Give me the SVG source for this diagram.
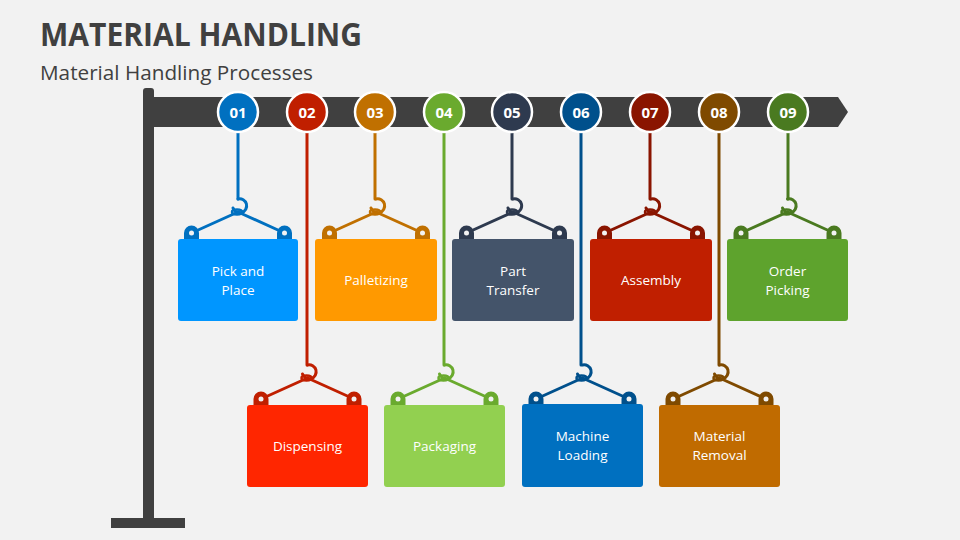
<svg xmlns="http://www.w3.org/2000/svg" width="960" height="540" viewBox="0 0 960 540">
<style>
.title{font-family:"Open Sans","Liberation Sans",sans-serif;font-weight:700;font-size:32px;fill:#404040}
.sub{font-family:"Open Sans","Liberation Sans",sans-serif;font-size:20px;fill:#404040}
.num{font-family:"Open Sans","Liberation Sans",sans-serif;font-weight:700;font-size:15px;fill:#fff;text-anchor:middle}
.lbl{font-family:"Open Sans","Liberation Sans",sans-serif;font-size:13.5px;fill:#fff;text-anchor:middle}
.rope{fill:none;stroke-width:3;stroke-linecap:round}
.hole{fill:#f2f2f2}
.dot{stroke:#fff;stroke-width:2.5}
</style>
<defs>
<g id="rig">
<path class="rope" d="M0 -40 A7 7 0 1 1 -5 -31"/>
<line class="rope" x1="0" y1="-27" x2="-46.5" y2="-6"/>
<line class="rope" x1="0" y1="-27" x2="46.5" y2="-6"/>
<ellipse cx="-1" cy="-27" rx="5" ry="2.5" fill="none" stroke-width="2.5"/>
<path d="M-54 0 V-6 A7.5 7.5 0 0 1 -39 -6 V0 Z" stroke="none"/>
<path d="M39 0 V-6 A7.5 7.5 0 0 1 54 -6 V0 Z" stroke="none"/>
<circle class="hole" cx="-46.5" cy="-6" r="2.5" stroke="none"/>
<circle class="hole" cx="46.5" cy="-6" r="2.5" stroke="none"/>
</g>
</defs>
<rect width="960" height="540" fill="#f2f2f2"/>
<text class="title" x="40" y="46" textLength="322" lengthAdjust="spacingAndGlyphs">MATERIAL HANDLING</text>
<text class="sub" x="40" y="80" textLength="273" lengthAdjust="spacingAndGlyphs">Material Handling Processes</text>
<g id="stand" fill="#404040">
<rect x="143" y="88" width="11" height="434" rx="3"/>
<rect x="111" y="518" width="74" height="10"/>
<polygon points="150,97 838,97 848,112 838,127 150,127"/>
</g>
<g id="connectors" class="rope" fill="none" stroke-width="3">
<line x1="238" y1="132" x2="238" y2="199" stroke="#0070c0"/>
<line x1="307" y1="132" x2="307" y2="365" stroke="#c01f00"/>
<line x1="375" y1="132" x2="375" y2="199" stroke="#c07000"/>
<line x1="444" y1="132" x2="444" y2="365" stroke="#6aaa2e"/>
<line x1="512" y1="132" x2="512" y2="199" stroke="#2e3a4f"/>
<line x1="581" y1="132" x2="581" y2="365" stroke="#00508c"/>
<line x1="650" y1="132" x2="650" y2="199" stroke="#8a1500"/>
<line x1="719" y1="132" x2="719" y2="365" stroke="#7f4a00"/>
<line x1="788" y1="132" x2="788" y2="199" stroke="#4a7a20"/>
</g>
<g id="n1">
<circle class="dot" cx="238" cy="112" r="20" fill="#0070c0"/><text class="num" x="238" y="117.5">01</text>
<g transform="translate(238,239)"><use href="#rig" stroke="#0070c0" fill="#0070c0"/><rect x="-60" y="0" width="120" height="82" rx="3" fill="#0096ff"/>
<text class="lbl" x="0" y="37">Pick and</text><text class="lbl" x="0" y="56">Place</text></g>
</g>
<g id="n2">
<circle class="dot" cx="307" cy="112" r="20" fill="#c01f00"/><text class="num" x="307" y="117.5">02</text>
<g transform="translate(307.5,405)"><use href="#rig" stroke="#c01f00" fill="#c01f00"/><rect x="-60.5" y="0" width="121" height="82" rx="3" fill="#ff2600"/>
<text class="lbl" x="0" y="46">Dispensing</text></g>
</g>
<g id="n3">
<circle class="dot" cx="375" cy="112" r="20" fill="#c07000"/><text class="num" x="375" y="117.5">03</text>
<g transform="translate(376,239)"><use href="#rig" stroke="#c07000" fill="#c07000"/><rect x="-61" y="0" width="122" height="82" rx="3" fill="#ff9900"/>
<text class="lbl" x="0" y="46">Palletizing</text></g>
</g>
<g id="n4">
<circle class="dot" cx="444" cy="112" r="20" fill="#6aaa2e"/><text class="num" x="444" y="117.5">04</text>
<g transform="translate(444.5,405)"><use href="#rig" stroke="#6aaa2e" fill="#6aaa2e"/><rect x="-60.5" y="0" width="121" height="82" rx="3" fill="#92d050"/>
<text class="lbl" x="0" y="46">Packaging</text></g>
</g>
<g id="n5">
<circle class="dot" cx="512" cy="112" r="20" fill="#2e3a4f"/><text class="num" x="512" y="117.5">05</text>
<g transform="translate(513,239)"><use href="#rig" stroke="#2e3a4f" fill="#2e3a4f"/><rect x="-61" y="0" width="122" height="82" rx="3" fill="#44546a"/>
<text class="lbl" x="0" y="37">Part</text><text class="lbl" x="0" y="56">Transfer</text></g>
</g>
<g id="n6">
<circle class="dot" cx="581" cy="112" r="20" fill="#00508c"/><text class="num" x="581" y="117.5">06</text>
<g transform="translate(582.5,405)"><use href="#rig" stroke="#00508c" fill="#00508c"/><rect x="-60.5" y="-1" width="121" height="83" rx="3" fill="#0070c0"/>
<text class="lbl" x="0" y="36">Machine</text><text class="lbl" x="0" y="55">Loading</text></g>
</g>
<g id="n7">
<circle class="dot" cx="650" cy="112" r="20" fill="#8a1500"/><text class="num" x="650" y="117.5">07</text>
<g transform="translate(651,239)"><use href="#rig" stroke="#8a1500" fill="#8a1500"/><rect x="-61" y="0" width="122" height="82" rx="3" fill="#c01f00"/>
<text class="lbl" x="0" y="46">Assembly</text></g>
</g>
<g id="n8">
<circle class="dot" cx="719" cy="112" r="20" fill="#7f4a00"/><text class="num" x="719" y="117.5">08</text>
<g transform="translate(719.5,405)"><use href="#rig" stroke="#7f4a00" fill="#7f4a00"/><rect x="-60.5" y="0" width="121" height="82" rx="3" fill="#c06b00"/>
<text class="lbl" x="0" y="36">Material</text><text class="lbl" x="0" y="55">Removal</text></g>
</g>
<g id="n9">
<circle class="dot" cx="788" cy="112" r="20" fill="#4a7a20"/><text class="num" x="788" y="117.5">09</text>
<g transform="translate(787.5,239)"><use href="#rig" stroke="#4a7a20" fill="#4a7a20"/><rect x="-60.5" y="0" width="121" height="82" rx="3" fill="#5ea32d"/>
<text class="lbl" x="0" y="37">Order</text><text class="lbl" x="0" y="56">Picking</text></g>
</g>
</svg>
